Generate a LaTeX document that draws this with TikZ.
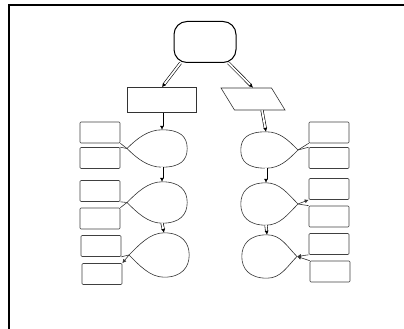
\documentclass[tikz,border=0pt]{standalone}
\usetikzlibrary{shapes.geometric, arrows.meta}

\begin{document}
\begin{tikzpicture}[
    x=1pt, y=1pt,
    >={Latex[length=4pt, width=4pt]},
    term/.style={
        draw=black, rounded corners=13pt, line width=1pt,
        minimum width=62pt, minimum height=41pt
    },
    procbox/.style={
        draw=black!80, semithick, minimum width=69pt, minimum height=25pt
    },
    iobox/.style={
        draw=black!80, semithick, trapezium, trapezium left angle=110,
        trapezium right angle=70, trapezium stretches=true,
        minimum width=64pt, minimum height=22pt
    },
    body/.style={ellipse, minimum width=50pt, inner sep=0pt},
    note/.style={
        draw=black!75, semithick, rounded corners=1pt,
        minimum width=40pt, minimum height=21pt
    },
    link/.style={->, draw=black, semithick, double, double distance=1.8pt},
    tie/.style={draw=black!80, semithick}
]

\useasboundingbox (0,0) rectangle (404,329);

% Frame
\draw[line width=1.6pt] (9,0) -- (9,324) -- (404,324);

% -------------------------
% Top part
% -------------------------
\node[term] (start) at (205, 287) {};
\node[procbox] (proc) at (162, 229) {};
\node[iobox] (io) at (253, 230) {};

% -------------------------
% Drops (body + tip)
% -------------------------
% left column
\node[body, minimum height=37pt] (L1) at (162, 180.5) {};
\node[body, minimum height=41pt] (L2) at (162, 126.5) {};
\node[body, minimum height=44pt] (L3) at (164, 74) {};
\coordinate (L1tip) at (127, 180.5);
\coordinate (L2tip) at (127, 126.5);
\coordinate (L3tip) at (129, 74);

% right column
\node[body, minimum height=36pt] (R1) at (266, 179) {};
\node[body, minimum height=42pt] (R2) at (266, 125) {};
\node[body, minimum height=43pt] (R3) at (267, 72.5) {};
\coordinate (R1tip) at (298, 179);
\coordinate (R2tip) at (298, 125);
\coordinate (R3tip) at (297, 72.5);

\foreach \n in {L1, L2, L3} {
    \draw[tie] (\n tip) .. controls +(10,10) and +(-14,0) .. (\n.north)
        .. controls +(18,0) and +(0,12) .. (\n.east)
        .. controls +(0,-12) and +(18,0) .. (\n.south)
        .. controls +(-14,0) and +(10,-10) .. (\n tip);
}
\foreach \n in {R1, R2, R3} {
    \draw[tie] (\n tip) .. controls +(-10,10) and +(14,0) .. (\n.north)
        .. controls +(-18,0) and +(0,12) .. (\n.west)
        .. controls +(0,-12) and +(-18,0) .. (\n.south)
        .. controls +(14,0) and +(-10,-10) .. (\n tip);
}

% -------------------------
% Side boxes
% -------------------------
\node[note] (la1) at (100, 196.5) {};
\node[note] (lb1) at (100, 171) {};
\node[note] (la2) at (100, 138) {};
\node[note] (lb2) at (100, 110.5) {};
\node[note] (la3) at (101, 83) {};
\node[note] (lb3) at (102, 55) {};

\node[note] (ra1) at (329, 196.5) {};
\node[note] (rb1) at (329, 171) {};
\node[note] (ra2) at (329, 140) {};
\node[note] (rb2) at (329, 112.5) {};
\node[note] (ra3) at (329, 85) {};
\node[note] (rb3) at (330, 57.5) {};

% -------------------------
% Connections
% -------------------------
\draw[link] (start.south west) ++(7,0) -- (proc.north);
\draw[link] (start.south east) ++(-8,0) -- (io.north);
\draw[link] (proc.south) -- (L1.north);
\draw[link] (L1.south) -- (L2.north);
\draw[link] (L2.south) -- (L3.north);
\draw[link] (io.south) ++(9,0) -- (R1.north);
\draw[link] (R1.south) -- (R2.north);
\draw[link] (R2.south) -- (R3.north);

% tips to side boxes
\draw[tie] (L1tip) -- (la1.south east);
\draw[tie] (L1tip) -- (lb1.north east);
\draw[tie] (L2tip) -- (la2.south east);
\draw[tie] (L2tip) -- (lb2.north east);
\draw[tie] (L3tip) -- (la3.south east);
\draw[tie, ->] (L3tip) -- (lb3.north east);

\draw[tie] (R1tip) -- (ra1.south west);
\draw[tie] (R1tip) -- (rb1.north west);
\draw[tie, ->] (R2tip) -- (ra2.south west);
\draw[tie] (R2tip) -- (rb2.north west);
\draw[tie, ->] (ra3.south west) -- (R3tip);
\draw[tie, ->] (rb3.north west) -- (R3tip);

\end{tikzpicture}
\end{document}
